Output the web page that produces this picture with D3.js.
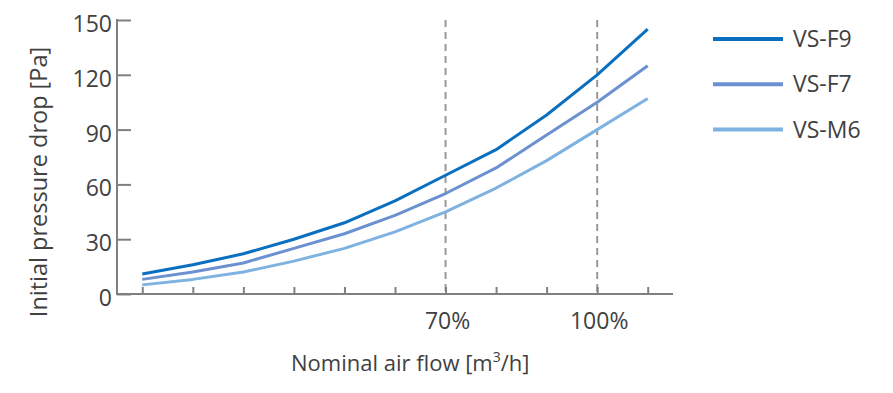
<!DOCTYPE html>
<html>
<head>
<meta charset="utf-8">
<script src="https://cdn.jsdelivr.net/npm/d3@7"></script>
<style>
  html, body { margin: 0; padding: 0; background: #fff; }
  svg { display: block; }
  text { font-family: "Open Sans", "Noto Sans", sans-serif; fill: #414141; }
</style>
</head>
<body>
<svg id="chart" width="893" height="393"></svg>
<script>
// ---- data ----
const flowPct = [10, 20, 30, 40, 50, 60, 70, 80, 90, 100, 110];
const seriesNames = ["VS-F9", "VS-F7", "VS-M6"];
const vsF9 = [11, 16, 22, 30, 39, 51, 65, 79, 98, 120, 145];
const vsF7 = [8, 12, 17, 25, 33, 43, 55, 69, 87, 105, 125];
const vsM6 = [5, 8, 12, 18, 25, 34, 45, 58, 73, 90, 107];
const yTicks = [0, 30, 60, 90, 120, 150];
const xLabelTicks = [70, 100];
const xLabelText = ["70%", "100%"];
const markers = [70, 100];
const colors = ["#0a6fbf", "#6b91d0", "#7db2e1"];

const svg = d3.select("#chart");
const x = d3.scaleLinear().domain([5, 115]).range([117, 673]);
const y = d3.scaleLinear().domain([0, 150]).range([294, 20]);

const axisColor = "#808080";

// dashed reference lines
svg.selectAll("line.ref").data(markers).enter().append("line")
  .attr("x1", d => x(d)).attr("x2", d => x(d))
  .attr("y1", y(150)).attr("y2", y(0))
  .attr("stroke", "#999").attr("stroke-width", 2)
  .attr("stroke-dasharray", "7,5");

// y axis
const yAxis = d3.axisRight(y).tickValues(yTicks).tickSize(14).tickFormat("");
const gy = svg.append("g").attr("transform", `translate(${x(5)},0)`).call(yAxis);
gy.select(".domain").remove();
gy.selectAll(".tick line").attr("stroke", axisColor).attr("stroke-width", 2);
svg.append("line").attr("x1", x(5)).attr("x2", x(5)).attr("y1", y(150) - 1).attr("y2", y(0) + 1)
  .attr("stroke", axisColor).attr("stroke-width", 2);
svg.selectAll("text.ytick").data(yTicks).enter().append("text")
  .attr("x", 112).attr("y", d => y(d) + 12)
  .attr("text-anchor", "end").attr("font-size", 23).text(d => d);

// x axis
const xAxis = d3.axisTop(x).tickValues(flowPct).tickSize(7).tickFormat("");
const gx = svg.append("g").attr("transform", `translate(0,${y(0)})`).call(xAxis);
gx.select(".domain").remove();
gx.selectAll(".tick line").attr("stroke", axisColor).attr("stroke-width", 2);
svg.append("line").attr("x1", x(5) - 1).attr("x2", x(115)).attr("y1", y(0)).attr("y2", y(0))
  .attr("stroke", axisColor).attr("stroke-width", 2);
svg.selectAll("text.xtick").data(xLabelTicks).enter().append("text")
  .attr("x", (d) => x(d) + 2).attr("y", 329)
  .attr("text-anchor", "middle").attr("font-size", 23).text((d, i) => xLabelText[i]);

// axis titles
const xt = svg.append("text").attr("x", 291).attr("y", 371).attr("font-size", 22);
xt.append("tspan").text("Nominal air flow [m");
xt.append("tspan").attr("font-size", 14).attr("dy", -9).text("3");
xt.append("tspan").attr("dy", 9).text("/h]");

svg.append("text")
  .attr("transform", "translate(47,182) rotate(-90)")
  .attr("text-anchor", "middle").attr("font-size", 23.5)
  .text("Initial pressure drop [Pa]");

// lines
const allSeries = [vsF9, vsF7, vsM6];
const line = d3.line().x((d, i) => x(flowPct[i])).y(d => y(d));
svg.selectAll("path.series").data(allSeries).enter().append("path")
  .attr("d", d => line(d)).attr("fill", "none")
  .attr("stroke", (d, i) => colors[i]).attr("stroke-width", 3)
  .attr("stroke-linejoin", "round");

// legend
const lg = svg.selectAll("g.leg").data(seriesNames).enter().append("g")
  .attr("transform", (d, i) => `translate(0,${39 + i * 45.3})`);
lg.append("line").attr("x1", 713).attr("x2", 783).attr("y1", 0).attr("y2", 0)
  .attr("stroke", (d, i) => colors[i]).attr("stroke-width", 4);
lg.append("text").attr("x", 793).attr("y", 8).attr("font-size", 23).text(d => d);
</script>
</body>
</html>
